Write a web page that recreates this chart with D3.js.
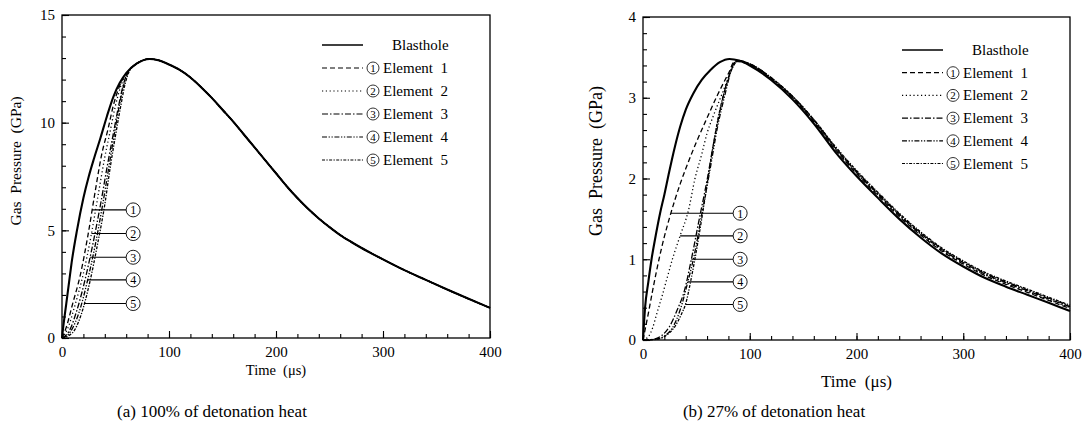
<!DOCTYPE html>
<html>
<head>
<meta charset="utf-8">
<script src="https://cdn.jsdelivr.net/npm/d3@7"></script>
<style>
  body { margin: 0; background: #fff; }
  text { font-family: "Liberation Serif", "Times New Roman", serif; fill: #000; }
</style>
</head>
<body>
<svg id="chart" width="1089" height="435"></svg>
<script>
// ---- data ----
const seriesLabels = ["Blasthole", "Element  1", "Element  2", "Element  3", "Element  4", "Element  5"];
const dashes = [null, "5,3", "1.2,2.6", "6,2,1.5,2", "5,1.6,1.3,1.6,1.3,1.6", "3,1.4,1.3,1.4"];

// (a) 100% of detonation heat
const tBlastA = [0, 1, 4, 7, 9, 14, 20, 25, 30, 36, 42, 48, 54, 60, 70, 82, 90, 100, 110, 120, 130, 140, 150, 160, 170, 180, 190, 200, 210, 220, 230, 240, 250, 260, 270, 280, 290, 300, 320, 340, 360, 380, 400];
const pBlastA = [0, 0.45, 1.6, 2.75, 3.5, 5.0, 6.5, 7.5, 8.35, 9.3, 10.3, 11.2, 11.85, 12.3, 12.75, 12.96, 12.9, 12.7, 12.45, 12.1, 11.65, 11.15, 10.6, 10.05, 9.45, 8.85, 8.25, 7.65, 7.05, 6.5, 6.0, 5.55, 5.15, 4.78, 4.47, 4.18, 3.91, 3.65, 3.15, 2.7, 2.25, 1.82, 1.4];
const tElemA = [
  [0, 4, 10, 17, 24, 31, 37, 43, 48, 53, 58, 62],
  [0, 5, 12, 20, 27, 34, 40, 45, 50, 55, 59, 63],
  [0, 7, 14, 22, 29, 36, 42, 48, 53, 57, 61, 64],
  [0, 8, 16, 24, 31, 38, 44, 49, 54, 58, 62, 65],
  [0, 10, 18, 26, 33, 40, 45, 50, 55, 59, 63, 66]
];
const pElemA = [
  [0, 0.5, 1.6, 2.9, 4.7, 6.8, 8.5, 9.7, 10.8, 11.6, 12.15, 12.4],
  [0, 0.4, 1.5, 3.0, 4.7, 6.7, 8.4, 9.6, 10.8, 11.7, 12.2, 12.45],
  [0, 0.35, 1.3, 2.8, 4.4, 6.2, 7.9, 9.5, 10.8, 11.7, 12.3, 12.5],
  [0, 0.3, 1.2, 2.7, 4.3, 6.2, 8.0, 9.5, 10.9, 11.8, 12.35, 12.55],
  [0, 0.25, 1.1, 2.6, 4.3, 6.2, 7.9, 9.4, 10.8, 11.8, 12.4, 12.6]
];
const calloutPA = [5.95, 4.85, 3.75, 2.7, 1.6];

// (b) 27% of detonation heat
const tBlastB = [0, 2, 5, 8, 12, 16, 20, 24, 30, 35, 40, 47, 55, 63, 72, 81, 90];
const pBlastB = [0, 0.41, 0.72, 1.0, 1.3, 1.57, 1.8, 2.05, 2.4, 2.65, 2.85, 3.05, 3.22, 3.34, 3.44, 3.48, 3.46];
const tElemB = [
  [0, 5, 10, 15, 20, 25, 30, 35, 40, 50, 60, 70, 80, 86],
  [0, 5, 9, 13, 18, 22, 28, 35, 42.5, 48.7, 55, 60, 66, 72, 78, 83, 87],
  [0, 10, 17, 25, 32, 39, 45, 52, 60, 67, 74, 80, 86, 89],
  [0, 12, 20, 28, 35, 42, 48, 55, 62, 70, 77, 83, 89],
  [0, 14, 22, 30, 36, 40, 45, 51, 58, 65, 72, 79, 85, 90]
];
const pElemB = [
  [0, 0.33, 0.68, 1.0, 1.28, 1.52, 1.74, 1.94, 2.12, 2.45, 2.75, 3.04, 3.3, 3.45],
  [0, 0.04, 0.15, 0.33, 0.55, 0.74, 1.02, 1.3, 1.6, 2.0, 2.3, 2.56, 2.78, 2.98, 3.18, 3.36, 3.46],
  [0, 0.01, 0.05, 0.17, 0.37, 0.62, 0.98, 1.45, 1.98, 2.5, 2.95, 3.25, 3.44, 3.46],
  [0, 0.01, 0.05, 0.16, 0.38, 0.72, 1.05, 1.55, 2.05, 2.65, 3.05, 3.35, 3.46],
  [0, 0.01, 0.06, 0.17, 0.32, 0.45, 0.75, 1.18, 1.75, 2.35, 2.85, 3.2, 3.4, 3.46]
];
const tTailB = [100, 120, 140, 160, 180, 200, 220, 240, 260, 280, 300, 320, 340, 360, 380, 400];
const pTailB = [
  [3.40, 3.22, 2.98, 2.68, 2.33, 2.03, 1.76, 1.50, 1.27, 1.07, 0.91, 0.77, 0.66, 0.56, 0.46, 0.36],
  [3.41, 3.23, 3.00, 2.70, 2.36, 2.06, 1.79, 1.53, 1.30, 1.10, 0.94, 0.80, 0.69, 0.59, 0.49, 0.39],
  [3.41, 3.24, 3.01, 2.71, 2.37, 2.07, 1.80, 1.54, 1.31, 1.11, 0.95, 0.81, 0.70, 0.60, 0.50, 0.40],
  [3.42, 3.24, 3.01, 2.72, 2.38, 2.08, 1.81, 1.55, 1.32, 1.12, 0.96, 0.82, 0.71, 0.61, 0.51, 0.41],
  [3.42, 3.25, 3.02, 2.73, 2.39, 2.09, 1.82, 1.56, 1.33, 1.13, 0.97, 0.83, 0.72, 0.62, 0.52, 0.42],
  [3.42, 3.25, 3.02, 2.73, 2.40, 2.10, 1.83, 1.57, 1.34, 1.14, 0.98, 0.84, 0.73, 0.63, 0.53, 0.43]
];
const calloutPB = [1.57, 1.29, 1.0, 0.72, 0.44];

const xTicks = [0, 100, 200, 300, 400];
const yTicksA = [0, 5, 10, 15];
const yTicksB = [0, 1, 2, 3, 4];
const captions = ["(a) 100% of detonation heat", "(b) 27% of detonation heat"];

// ---- build series ----
function zip(ts, ps) { return ts.map((t, i) => ({ t: t, p: ps[i] })); }

const blastA = zip(tBlastA, pBlastA);
const seriesA = [blastA].concat(tElemA.map((ts, k) => {
  const head = zip(ts, pElemA[k]);
  const last = ts[ts.length - 1];
  return head.concat(blastA.filter(d => d.t > last));
}));

const seriesB = [zip(tBlastB, pBlastB).concat(zip(tTailB, pTailB[0]))].concat(
  tElemB.map((ts, k) => zip(ts, pElemB[k]).concat(zip(tTailB, pTailB[k + 1])))
);

const svg = d3.select("#chart");

function drawPanel(cfg) {
  const x = d3.scaleLinear().domain([0, 400]).range([cfg.x0, cfg.x1]);
  const y = d3.scaleLinear().domain([0, cfg.yMax]).range([cfg.y1, cfg.y0]);
  const g = svg.append("g");

  // minor ticks
  g.append("g").attr("transform", `translate(0,${cfg.y1})`)
    .call(d3.axisBottom(x).tickValues(d3.range(0, 401, 20)).tickSize(-4).tickFormat(""))
    .call(a => a.select(".domain").remove());
  g.append("g").attr("transform", `translate(${cfg.x0},0)`)
    .call(d3.axisLeft(y).tickValues(d3.range(0, cfg.yMax + 1e-9, cfg.yMinor)).tickSize(-4).tickFormat(""))
    .call(a => a.select(".domain").remove());

  // major ticks + labels
  const xa = g.append("g").attr("transform", `translate(0,${cfg.y1})`)
    .call(d3.axisBottom(x).tickValues(xTicks).tickSize(-7).tickPadding(8).tickFormat(d3.format("d")))
    .call(a => a.select(".domain").remove());
  xa.selectAll("text").style("font-size", cfg.tickFont + "px").style("font-family", "Liberation Serif");
  const ya = g.append("g").attr("transform", `translate(${cfg.x0},0)`)
    .call(d3.axisLeft(y).tickValues(cfg.yTicks).tickSize(-7).tickPadding(7).tickFormat(d3.format("d")))
    .call(a => a.select(".domain").remove());
  ya.selectAll("text").style("font-size", cfg.tickFont + "px").style("font-family", "Liberation Serif");
  g.selectAll(".tick line").attr("stroke", "#000").attr("stroke-width", 1.1);

  // frame
  g.append("rect")
    .attr("x", cfg.x0).attr("y", cfg.y0)
    .attr("width", cfg.x1 - cfg.x0).attr("height", cfg.y1 - cfg.y0)
    .attr("fill", "none").attr("stroke", "#000").attr("stroke-width", 1.3);

  const line = d3.line().x(d => x(d.t)).y(d => y(d.p)).curve(d3.curveMonotoneX);

  // elements first, blasthole on top
  for (let k = cfg.series.length - 1; k >= 0; k--) {
    g.append("path")
      .datum(cfg.series[k])
      .attr("d", line)
      .attr("fill", "none")
      .attr("stroke", "#000")
      .attr("stroke-width", k === 0 ? 2.1 : 1.3)
      .attr("stroke-dasharray", dashes[k]);
  }

  // callouts
  cfg.callouts.forEach((p, k) => {
    const pts = cfg.series[k + 1];
    let tHit = pts[0].t;
    for (let i = 1; i < pts.length; i++) {
      if (pts[i].p >= p) {
        const a = pts[i - 1], b = pts[i];
        tHit = a.t + (p - a.p) / (b.p - a.p) * (b.t - a.t);
        break;
      }
    }
    const cx = x(cfg.calloutT), cy = y(p);
    g.append("line")
      .attr("x1", x(tHit)).attr("x2", cx - 7)
      .attr("y1", cy).attr("y2", cy)
      .attr("stroke", "#000").attr("stroke-width", 1.1);
    g.append("circle").attr("cx", cx).attr("cy", cy).attr("r", 7)
      .attr("fill", "#fff").attr("stroke", "#000").attr("stroke-width", 0.9);
    g.append("text").attr("x", cx).attr("y", cy + 4.5)
      .attr("text-anchor", "middle").style("font-size", "12px")
      .text(k + 1);
  });

  // legend
  seriesLabels.forEach((name, k) => {
    const ly = cfg.legY + k * cfg.legStep;
    g.append("line")
      .attr("x1", cfg.legX).attr("x2", cfg.legX + 41)
      .attr("y1", ly).attr("y2", ly)
      .attr("stroke", "#000").attr("stroke-width", k === 0 ? 1.6 : 1.2)
      .attr("stroke-dasharray", dashes[k]);
    if (k === 0) {
      g.append("text").attr("x", cfg.legX + 70).attr("y", ly + 5)
        .style("font-size", "15px").text(name);
    } else {
      g.append("circle").attr("cx", cfg.legX + 51).attr("cy", ly).attr("r", 6)
        .attr("fill", "none").attr("stroke", "#000").attr("stroke-width", 0.8);
      g.append("text").attr("x", cfg.legX + 51).attr("y", ly + 4)
        .attr("text-anchor", "middle").style("font-size", "11px").text(k);
      g.append("text").attr("x", cfg.legX + 61).attr("y", ly + 5)
        .style("font-size", "15px").style("white-space", "pre").text(name);
    }
  });

  // axis titles
  g.append("text")
    .attr("transform", `translate(${cfg.yTitleX},${cfg.yTitleY}) rotate(-90)`)
    .attr("text-anchor", "middle").style("font-size", cfg.yTitleFont + "px")
    .style("white-space", "pre")
    .text("Gas  Pressure  (GPa)");
  g.append("text")
    .attr("x", (cfg.x0 + cfg.x1) / 2).attr("y", cfg.xTitleY)
    .attr("text-anchor", "middle").style("font-size", cfg.xTitleFont + "px")
    .style("white-space", "pre")
    .text("Time  (\u03bcs)");
  g.append("text")
    .attr("x", cfg.capX).attr("y", 417)
    .attr("text-anchor", "middle").style("font-size", "17px")
    .style("white-space", "pre")
    .text(cfg.caption);
}

drawPanel({
  x0: 62, x1: 490, y0: 15, y1: 338, yMax: 15, yMinor: 1, yTicks: yTicksA,
  series: seriesA, callouts: calloutPA, calloutT: 66.5,
  legX: 322, legY: 45, legStep: 23,
  tickFont: 15, yTitleFont: 15.5, xTitleFont: 14.5, yTitleX: 21, yTitleY: 161, xTitleY: 375,
  capX: 212, caption: captions[0]
});
drawPanel({
  x0: 643, x1: 1070, y0: 17, y1: 340, yMax: 4, yMinor: 0.2, yTicks: yTicksB,
  series: seriesB, callouts: calloutPB, calloutT: 91,
  legX: 902, legY: 50, legStep: 22.7,
  tickFont: 15, yTitleFont: 18, xTitleFont: 17, yTitleX: 602, yTitleY: 161, xTitleY: 387,
  capX: 774, caption: captions[1]
});
</script>
</body>
</html>
